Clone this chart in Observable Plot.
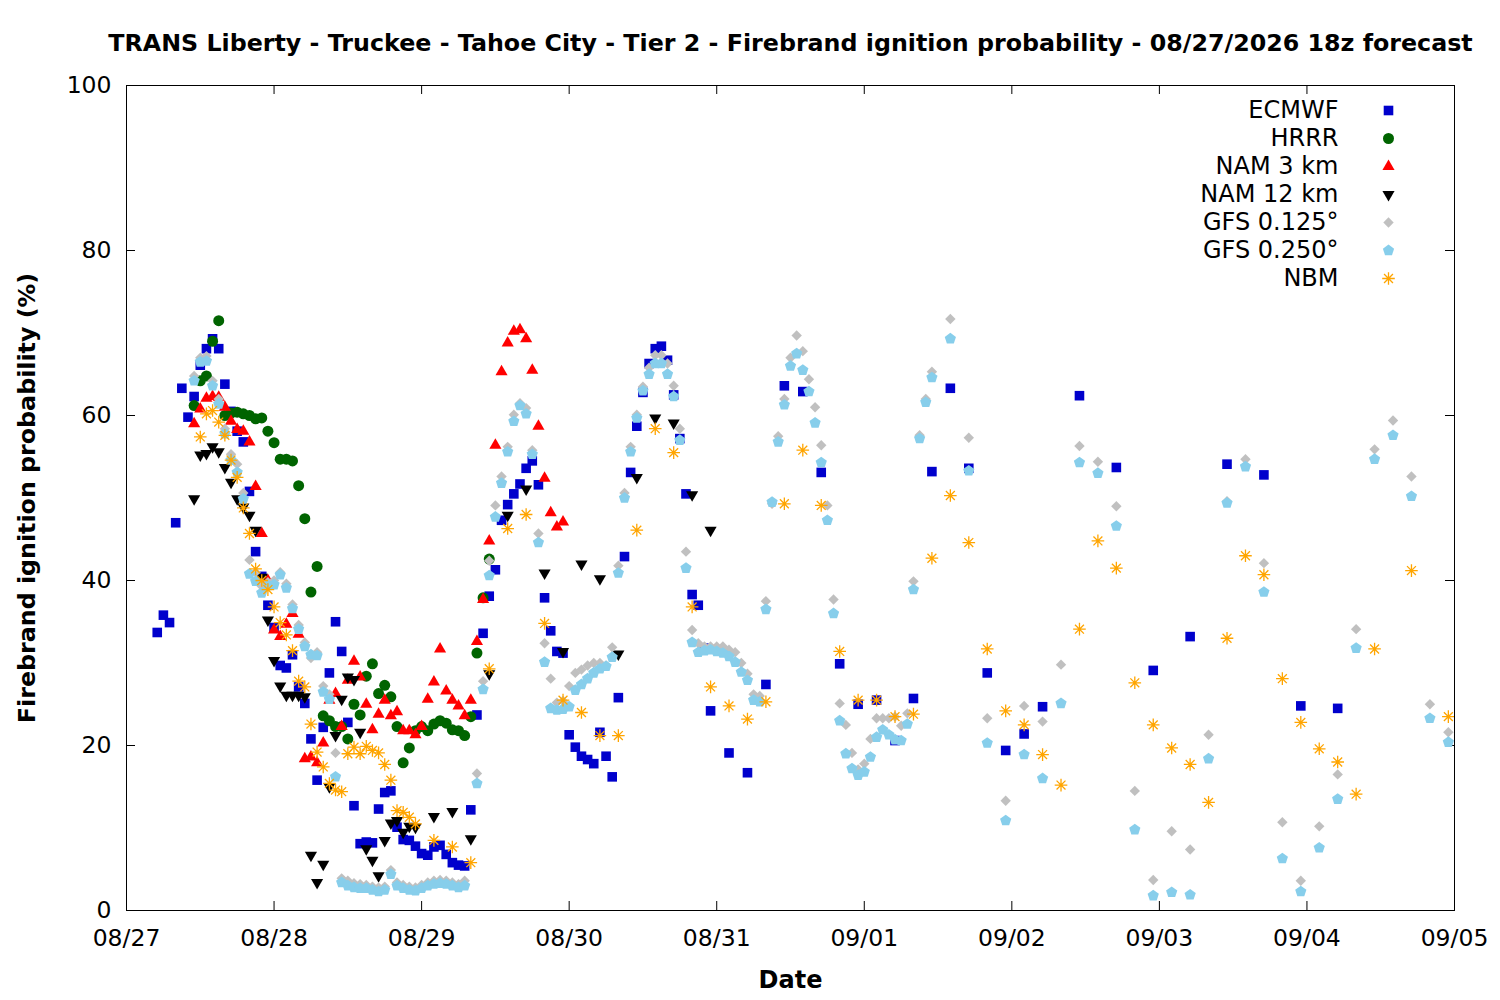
<!DOCTYPE html>
<html><head><meta charset="utf-8">
<script src="https://cdn.jsdelivr.net/npm/d3@7"></script>
<script src="https://cdn.jsdelivr.net/npm/@observablehq/plot@0.6"></script>
<style>body{margin:0;background:#fff;} #chart svg{font-family:"DejaVu Sans",sans-serif;}</style>
</head><body><div id="chart"></div>
<script>
const titleText = "TRANS Liberty - Truckee - Tahoe City - Tier 2 - Firebrand ignition probability - 08/27/2026 18z forecast";
const xLabel = "Date";
const yLabel = "Firebrand ignition probability (%)";
const xTickHours = [0, 24, 48, 72, 96, 120, 144, 168, 192, 216];
const xTickLabels = ["08/27", "08/28", "08/29", "08/30", "08/31", "09/01", "09/02", "09/03", "09/04", "09/05"];
const yTicks = [0, 20, 40, 60, 80, 100];
const seriesNames = ["ECMWF", "HRRR", "NAM 3 km", "NAM 12 km", "GFS 0.125°", "GFS 0.250°", "NBM"];
const seriesColors = ["#0000cc", "#006400", "#ff0000", "#000000", "#c0c0c0", "#87ceeb", "#ffa500"];

// [hour since 08/27 00:00, probability %]
const ecmwf = [[5,33.7],[6,35.8],[7,34.9],[8,47.0],[9,63.3],[10,59.8],[11,62.3],[12,66.1],[13,68.1],[14,69.3],[15,68.1],[16,63.8],[17,60.5],[18,58.1],[19,56.8],[20,50.8],[21,43.5],[22,40.5],[23,37.0],[24,34.3],[25,29.7],[26,29.4],[27,31.0],[28,27.1],[29,25.1],[30,20.8],[31,15.8],[32,22.2],[33,28.8],[34,35.0],[35,31.4],[36,22.8],[37,12.7],[38,8.1],[39,8.3],[40,8.2],[41,12.3],[42,14.3],[43,14.5],[44,10.1],[45,8.6],[46,8.5],[47,7.8],[48,6.9],[49,6.7],[50,7.7],[51,7.9],[52,6.8],[53,5.8],[54,5.5],[55,5.4],[56,12.2],[57,23.7],[58,33.6],[59,38.1],[60,41.3],[61,47.3],[62,49.2],[63,50.5],[64,51.7],[65,53.6],[66,54.5],[67,51.6],[68,37.9],[69,33.9],[70,31.4],[71,31.2],[72,21.3],[73,19.8],[74,18.7],[75,18.3],[76,17.8],[77,21.6],[78,18.7],[79,16.2],[80,25.8],[81,42.9],[82,53.1],[83,58.7],[84,62.8],[85,66.3],[86,68.1],[87,68.4],[88,66.7],[89,62.5],[90,57.2],[91,50.5],[92,38.3],[93,37.0],[94,31.8],[95,24.2],[98,19.1],[101,16.7],[104,27.4],[107,63.6],[110,62.9],[113,53.1],[116,29.9],[119,25.0],[122,25.5],[125,20.6],[128,25.7],[131,53.2],[134,63.3],[137,53.6],[140,28.8],[143,19.4],[146,21.4],[149,24.7],[155,62.4],[161,53.7],[167,29.1],[173,33.2],[179,54.1],[185,52.8],[191,24.8],[197,24.5]];

const hrrr = [[11,61.2],[12,64.2],[13,64.8],[14,69.0],[15,71.5],[16,60.0],[17,60.3],[18,60.4],[19,60.2],[20,60.0],[21,59.6],[22,59.7],[23,58.1],[24,56.7],[25,54.7],[26,54.7],[27,54.5],[28,51.5],[29,47.5],[30,38.6],[31,41.7],[32,23.6],[33,23.0],[34,22.3],[35,22.3],[36,20.8],[37,25.0],[38,23.7],[39,28.4],[40,29.9],[41,26.3],[42,27.3],[43,25.9],[44,22.3],[45,17.9],[46,19.7],[47,21.8],[48,22.3],[49,21.8],[50,22.6],[51,23.0],[52,22.7],[53,21.9],[54,21.8],[55,21.2],[56,23.5],[57,31.2],[58,37.9],[59,42.6]];

const nam3 = [[11,59.0],[12,60.8],[13,62.1],[14,62.3],[15,62.2],[16,61.0],[17,59.3],[18,58.3],[19,58.1],[20,56.8],[21,51.4],[22,45.7],[23,40.0],[24,34.0],[25,33.2],[26,34.7],[27,36.0],[28,33.5],[29,18.4],[30,18.6],[31,17.9],[32,20.3],[33,25.5],[34,26.3],[35,22.3],[36,27.9],[37,30.2],[38,28.3],[39,25.0],[40,21.9],[41,23.8],[42,25.5],[43,23.6],[44,24.1],[45,21.8],[46,21.8],[47,21.3],[48,22.3],[49,25.6],[50,27.7],[51,31.7],[52,26.6],[53,25.5],[54,24.8],[55,23.6],[56,25.5],[57,32.6],[58,37.7],[59,44.8],[60,56.4],[61,65.3],[62,68.8],[63,70.2],[64,70.4],[65,69.3],[66,65.5],[67,58.7],[68,52.4],[69,48.2],[70,46.5],[71,47.1]];

const nam12 = [[11,49.9],[12,55.2],[13,55.4],[14,56.2],[15,55.6],[16,53.7],[17,51.9],[18,49.9],[19,48.9],[20,47.9],[21,46.1],[22,40.4],[23,35.2],[24,30.3],[25,27.2],[26,26.1],[27,26.1],[28,26.1],[29,25.9],[30,6.7],[31,3.4],[32,5.6],[33,15.0],[34,21.2],[35,25.6],[36,28.3],[37,28.0],[38,21.6],[39,7.5],[40,6.1],[41,4.2],[42,8.5],[43,10.6],[44,10.9],[45,9.5],[46,10.2],[47,10.1],[50,11.4],[53,12.0],[56,8.7],[59,28.7],[62,47.9],[65,51.1],[68,40.9],[71,31.4],[74,42.0],[77,40.2],[80,31.1],[83,52.5],[86,59.7],[89,59.1],[92,50.4],[95,46.1]];

const gfs0125 = [[11,64.8],[12,67.0],[13,67.2],[14,64.2],[15,62.0],[16,58.4],[17,55.3],[18,54.1],[19,50.6],[20,42.5],[21,41.0],[22,39.3],[23,39.8],[24,40.0],[25,41.0],[26,39.6],[27,37.1],[28,34.6],[29,32.5],[30,30.6],[31,31.3],[32,27.2],[33,26.2],[34,19.1],[35,3.9],[36,3.6],[37,3.3],[38,3.2],[39,3.1],[40,2.9],[41,2.8],[42,2.9],[43,4.9],[44,3.4],[45,3.1],[46,2.9],[47,2.8],[48,3.1],[49,3.4],[50,3.6],[51,3.7],[52,3.6],[53,3.4],[54,3.2],[55,3.6],[57,16.6],[58,27.8],[59,42.4],[60,49.1],[61,52.6],[62,56.2],[63,60.1],[64,61.5],[65,60.9],[66,55.8],[67,45.7],[68,32.4],[69,28.1],[70,25.2],[71,25.4],[72,27.2],[73,28.8],[74,29.2],[75,29.7],[76,30.0],[77,30.0],[78,29.7],[79,31.9],[80,41.8],[81,50.6],[82,56.2],[83,60.1],[84,63.5],[85,65.8],[86,67.3],[87,67.3],[88,66.3],[89,63.6],[90,58.4],[91,43.5],[92,34.0],[93,32.4],[94,32.0],[95,32.0],[96,32.0],[97,32.0],[98,31.6],[99,31.3],[100,30.0],[101,28.7],[102,26.2],[103,26.0],[104,37.5],[105,49.3],[106,57.5],[107,62.0],[108,67.0],[109,69.7],[110,67.8],[111,64.4],[112,61.0],[113,56.4],[114,49.1],[115,37.7],[116,25.1],[117,22.5],[118,19.1],[119,17.1],[120,17.8],[121,20.8],[122,23.3],[123,23.3],[124,23.3],[125,23.5],[126,22.4],[127,23.9],[128,39.9],[129,57.6],[130,62.0],[131,65.3],[134,71.7],[137,57.3],[140,23.3],[143,13.3],[146,24.8],[149,22.9],[152,29.8],[155,56.3],[158,54.4],[161,49.0],[164,14.5],[167,3.7],[170,9.6],[173,7.4],[176,21.3],[179,49.6],[182,54.7],[185,42.1],[188,10.7],[191,3.6],[194,10.2],[197,16.5],[200,34.1],[203,55.9],[206,59.4],[209,52.6],[212,25.0],[215,21.6]];

const gfs0250 = [[11,64.2],[12,66.5],[13,66.6],[14,63.6],[15,61.4],[16,57.8],[17,54.6],[18,53.1],[19,49.9],[20,40.8],[21,39.9],[22,38.5],[23,39.4],[24,39.5],[25,40.7],[26,39.1],[27,36.6],[28,34.1],[29,32.0],[30,31.0],[31,30.9],[32,26.5],[33,25.6],[34,16.2],[35,3.4],[36,3.0],[37,2.8],[38,2.7],[39,2.7],[40,2.5],[41,2.3],[42,2.5],[43,4.4],[44,3.0],[45,2.7],[46,2.5],[47,2.4],[48,2.7],[49,3.0],[50,3.2],[51,3.3],[52,3.2],[53,3.0],[54,2.8],[55,3.0],[57,15.4],[58,26.8],[59,40.6],[60,47.7],[61,51.8],[62,55.6],[63,59.3],[64,61.2],[65,60.2],[66,55.3],[67,44.6],[68,30.1],[69,24.5],[70,24.3],[71,24.4],[72,24.7],[73,26.7],[74,27.4],[75,28.1],[76,28.8],[77,29.3],[78,29.6],[79,30.7],[80,40.9],[81,50.0],[82,55.6],[83,59.7],[84,63.0],[85,65.0],[86,66.3],[87,66.3],[88,65.0],[89,62.3],[90,57.0],[91,41.5],[92,32.5],[93,31.3],[94,31.5],[95,31.6],[96,31.4],[97,31.2],[98,30.8],[99,30.1],[100,28.9],[101,27.9],[102,25.5],[103,25.3],[104,36.5],[105,49.5],[106,56.8],[107,61.3],[108,66.0],[109,67.5],[110,65.5],[111,62.9],[112,59.1],[113,54.3],[114,47.3],[115,36.0],[116,23.0],[117,19.0],[118,17.2],[119,16.4],[120,16.8],[121,18.6],[122,21.0],[123,21.9],[124,21.3],[125,20.7],[126,20.6],[127,22.6],[128,38.9],[129,57.2],[130,61.6],[131,64.6],[134,69.3],[137,53.3],[140,20.3],[143,10.9],[146,18.9],[149,16.0],[152,25.1],[155,54.3],[158,53.0],[161,46.6],[164,9.8],[167,1.8],[170,2.2],[173,1.9],[176,18.4],[179,49.4],[182,53.8],[185,38.6],[188,6.3],[191,2.3],[194,7.6],[197,13.5],[200,31.8],[203,54.7],[206,57.6],[209,50.2],[212,23.3],[215,20.4]];

const nbm = [[12,57.4],[13,60.2],[14,60.6],[15,59.2],[16,57.6],[17,54.6],[18,52.5],[19,48.8],[20,45.7],[21,41.4],[22,40.0],[23,38.9],[24,36.8],[25,34.9],[26,33.4],[27,31.5],[28,27.8],[29,27.1],[30,22.6],[31,19.2],[32,17.4],[33,15.4],[34,14.6],[35,14.4],[36,19.0],[37,19.8],[38,19.0],[39,19.9],[40,19.4],[41,19.1],[42,17.7],[43,15.8],[44,12.1],[45,11.9],[46,11.3],[47,10.5],[50,8.5],[53,7.7],[56,5.8],[59,29.3],[62,46.3],[65,48.0],[68,34.8],[71,25.5],[74,24.0],[77,21.2],[80,21.2],[83,46.1],[86,58.4],[89,55.5],[92,36.8],[95,27.1],[98,24.8],[101,23.2],[104,25.3],[107,49.3],[110,55.8],[113,49.1],[116,31.4],[119,25.5],[122,25.5],[125,23.5],[128,23.8],[131,42.7],[134,50.3],[137,44.6],[140,31.7],[143,24.2],[146,22.5],[149,18.9],[152,15.2],[155,34.1],[158,44.8],[161,41.5],[164,27.6],[167,22.5],[170,19.7],[173,17.7],[176,13.1],[179,33.0],[182,43.0],[185,40.7],[188,28.1],[191,22.8],[194,19.6],[197,18.0],[200,14.1],[203,31.7],[209,41.2],[215,23.5]];

// custom gnuplot-like point shapes (size -> radius r)
const R = (size) => Math.sqrt(size / Math.PI);
const symSquare = {draw(c, s){ const r = R(s); c.rect(-r, -r, 2*r, 2*r); }};
const symUp = {draw(c, s){ const r = R(s); c.moveTo(0, -r); c.lineTo(r*0.866, r*0.5); c.lineTo(-r*0.866, r*0.5); c.closePath(); }};
const symDown = {draw(c, s){ const r = R(s); c.moveTo(0, r); c.lineTo(r*0.866, -r*0.5); c.lineTo(-r*0.866, -r*0.5); c.closePath(); }};
const symDiamond = {draw(c, s){ const r = R(s); c.moveTo(0, -r); c.lineTo(r, 0); c.lineTo(0, r); c.lineTo(-r, 0); c.closePath(); }};
const symPentagon = {draw(c, s){ const r = R(s); for (let k = 0; k < 5; k++){ const a = -Math.PI/2 + k*2*Math.PI/5; const px = r*Math.cos(a), py = r*Math.sin(a); if (k === 0) c.moveTo(px, py); else c.lineTo(px, py);} c.closePath(); }};
const symStar = {draw(c, s){ const r = R(s); for (let k = 0; k < 4; k++){ const a = k*Math.PI/4; c.moveTo(r*Math.cos(a), r*Math.sin(a)); c.lineTo(-r*Math.cos(a), -r*Math.sin(a)); } }};

const seriesData = [ecmwf, hrrr, nam3, nam12, gfs0125, gfs0250, nbm];
const seriesSym = [symSquare, "circle", symUp, symDown, symDiamond, symPentagon, symStar];
const seriesR = [4.8, 5.5, 7.0, 7.0, 5.2, 5.9, 6.3];

const marks = [];
seriesData.forEach((arr, i) => {
  const rows = arr.map(([h, v]) => ({h, v}));
  const isStar = i === 6;
  marks.push(Plot.dot(rows, {
    x: "h", y: "v", r: seriesR[i], symbol: seriesSym[i],
    fill: isStar ? "none" : seriesColors[i],
    stroke: isStar ? seriesColors[i] : "none",
    strokeWidth: isStar ? 1.3 : 0
  }));
  // legend entry
  marks.push(Plot.text([seriesNames[i]], {
    frameAnchor: "top-right", dx: -(1454 - 1338), dy: 25 + 28 * i,
    textAnchor: "end", lineAnchor: "middle", fontSize: 24, fill: "black"
  }));
  marks.push(Plot.dot([0], {
    frameAnchor: "top-right", dx: -(1454 - 1388), dy: 25 + 28 * i,
    r: seriesR[i], symbol: seriesSym[i],
    fill: isStar ? "none" : seriesColors[i],
    stroke: isStar ? seriesColors[i] : "none",
    strokeWidth: isStar ? 1.3 : 0
  }));
});

const chart = Plot.plot({
  width: 1500, height: 1000,
  marginLeft: 126, marginRight: 46, marginTop: 85, marginBottom: 90,
  style: {fontFamily: "DejaVu Sans, sans-serif", fontSize: "23.5px", background: "white", overflow: "visible"},
  x: {domain: [0, 216], axis: null},
  y: {domain: [0, 100], axis: null},
  marks: [
    Plot.axisY({ticks: yTicks, tickSize: 0, tickPadding: 15, fontSize: 23.5, label: null}),
    Plot.axisX({ticks: xTickHours, tickFormat: d => xTickLabels[xTickHours.indexOf(d)], tickSize: 0, tickPadding: 19, fontSize: 23.5, label: null}),
    Plot.tickY(yTicks, {y: d => d, insetRight: 1328 - 9, stroke: "black"}),
    Plot.tickY(yTicks, {y: d => d, insetLeft: 1328 - 9, stroke: "black"}),
    Plot.tickX(xTickHours, {x: d => d, insetTop: 825 - 9, stroke: "black"}),
    Plot.tickX(xTickHours, {x: d => d, insetBottom: 825 - 9, stroke: "black"}),
    ...marks,
    Plot.frame({stroke: "black", strokeWidth: 1}),
    Plot.text([titleText], {frameAnchor: "top", dy: -42, lineAnchor: "middle", fontSize: 23.75, fontWeight: "bold", fill: "black"}),
    Plot.text([xLabel], {frameAnchor: "bottom", dy: 70, lineAnchor: "middle", fontSize: 24, fontWeight: "bold", fill: "black"}),
    Plot.text([yLabel], {frameAnchor: "left", dx: -99, rotate: -90, textAnchor: "middle", lineAnchor: "middle", fontSize: 23.75, fontWeight: "bold", fill: "black"})
  ]
});
document.getElementById("chart").appendChild(chart);
</script></body></html>
